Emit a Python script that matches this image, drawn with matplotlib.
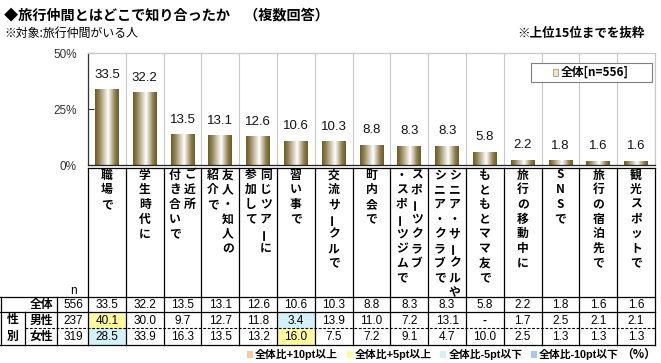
import matplotlib
matplotlib.use('Agg')
import matplotlib.pyplot as plt
import numpy as np
from matplotlib.colors import LinearSegmentedColormap
from matplotlib.patches import Rectangle

plt.rcParams['font.family'] = ['Noto Sans CJK JP', 'DejaVu Sans']

# ---------------- data ----------------
label_columns = [
    ['職場で'],
    ['学生時代に'],
    ['ご近所', '付き合いで'],
    ['友人・知人の', '紹介で'],
    ['同じツアーに', '参加して'],
    ['習い事で'],
    ['交流サークルで'],
    ['町内会で'],
    ['スポーツクラブ', '・スポーツジムで'],
    ['シニア・サークルや', 'シニア・クラブで'],
    ['もともとママ友で'],
    ['旅行の移動中に'],
    ['SNSで'],
    ['旅行の宿泊先で'],
    ['観光スポットで'],
]
total = [33.5, 32.2, 13.5, 13.1, 12.6, 10.6, 10.3, 8.8, 8.3, 8.3, 5.8, 2.2, 1.8, 1.6, 1.6]
male = [40.1, 30.0, 9.7, 12.7, 11.8, 3.4, 13.9, 11.0, 7.2, 13.1, None, 1.7, 2.5, 2.1, 2.1]
female = [28.5, 33.9, 16.3, 13.5, 13.2, 16.0, 7.5, 7.2, 9.1, 4.7, 10.0, 2.5, 1.3, 1.3, 1.3]
row_names = ['全体', '男性', '女性']
row_n = [556, 237, 319]
yticks = [0, 25, 50]
ytick_labels = ['0%', '25%', '50%']
legend_label = '全体[n=556]'
title = '◆旅行仲間とはどこで知り合ったか　（複数回答）'
subtitle = '※対象:旅行仲間がいる人'
note = '※上位15位までを抜粋'
key_labels = ['全体比+10pt以上', '全体比+5pt以上', '全体比-5pt以下', '全体比-10pt以下']
key_colors = ['#f8c9a6', '#fff9a0', '#d4f1f8', '#a6c8ea']
unit_label = '（%）'

W, H = 661, 363
NUM = 'Liberation Sans'

fig = plt.figure(figsize=(W / 100, H / 100), dpi=100)

# ---------------- bar chart ----------------
ax = fig.add_axes([88 / W, 1 - 165 / H, 567 / W, 112 / H])
x = np.arange(len(total))
bars = ax.bar(x, total, width=0.63, color='none', edgecolor='none', zorder=2)
cmap = LinearSegmentedColormap.from_list(
    'g', [(0, '#6a5b2b'), (0.15, '#8d7d4b'), (0.55, '#ffffff'),
          (0.85, '#8a7a47'), (1, '#6a5b2b')])
grad = np.linspace(0, 1, 256).reshape(1, -1)
for b in bars:
    ax.imshow(grad, extent=[b.get_x(), b.get_x() + b.get_width(), 0, b.get_height()],
              aspect='auto', cmap=cmap, zorder=2, interpolation='bilinear')
for b, v in zip(bars, total):
    ax.annotate(f'{v:.1f}', (b.get_x() + b.get_width() / 2, v), xytext=(0, 9),
                textcoords='offset pixels', ha='center', va='bottom',
                fontsize=9.5, family=NUM, color='#111111')
ax.set_xlim(-0.5, len(total) - 0.5)
ax.set_ylim(0, 50)
ax.set_yticks(yticks)
ax.set_yticklabels(ytick_labels, family=NUM, fontsize=8.5, color='#333333')
ax.set_xticks([])
ax.set_xticks(np.arange(-0.5, len(total), 1), minor=True)
ax.grid(axis='x', which='minor', color='#c8c8c8', lw=0.8)
ax.tick_params(axis='x', which='both', length=0)
ax.tick_params(axis='y', direction='in', length=4, pad=8, color='#333333')
ax.spines['top'].set_color('#c8c8c8')
ax.spines['right'].set_color('#c8c8c8')
ax.spines['left'].set_color('#333333')
ax.spines['bottom'].set_color('#222222')
for s in ax.spines.values():
    s.set_linewidth(0.9)
ax.set_axisbelow(True)

# ---------------- overlay (pixel coordinates) ----------------
ov = fig.add_axes([0, 0, 1, 1], zorder=3)
ov.set_xlim(0, W)
ov.set_ylim(H, 0)
ov.axis('off')
ov.patch.set_visible(False)


def px(c):
    return ax.transData.transform((c, 0))[0]


# titles
ov.text(4, 15, title, fontsize=10.2, fontweight='bold', va='center', ha='left')
ov.text(4, 33, subtitle, fontsize=8.6, va='center', ha='left')
ov.text(645, 33, note, fontsize=9, fontweight='bold', va='center', ha='right')

# legend box
ov.add_patch(Rectangle((531, 63), 121, 19, facecolor='white', edgecolor='#7f7f7f', lw=0.8))
ov.add_patch(Rectangle((553, 69), 5, 7, facecolor='#ece6cf', edgecolor='#a89a68', lw=0.6))
ov.text(561, 72.5, legend_label, fontsize=8.5, fontweight='bold', va='center', ha='left')

# category labels (vertical writing, columns read right-to-left)
y0, step = 175, 14.7
for i, cols in enumerate(label_columns):
    cx = px(i)
    n = len(cols)
    offsets = [0] if n == 1 else [7.5, -7.5]
    for col, off in zip(cols, offsets):
        for k, ch in enumerate(col):
            rot = 90 if ch == 'ー' else 0
            ov.text(cx + off, y0 + k * step, ch, fontsize=8.5, fontweight='bold',
                    ha='center', va='center', rotation=rot)

# table
row_top = [297, 312, 328]
row_bot = [312, 328, 345]
row_y = [(a + b) / 2 for a, b in zip(row_top, row_bot)]
rows = [total, male, female]


def cell_color(v, base):
    if v is None:
        return None
    d = round(v - base, 1)
    if d >= 10:
        return key_colors[0]
    if d >= 5:
        return key_colors[1]
    if d <= -10:
        return key_colors[3]
    if d <= -5:
        return key_colors[2]
    return None


for r, vals in enumerate(rows):
    for i, v in enumerate(vals):
        if r > 0:
            c = cell_color(v, total[i])
            if c:
                ov.add_patch(Rectangle((px(i - 0.5), row_top[r]), px(i + 0.5) - px(i - 0.5),
                                       row_bot[r] - row_top[r], facecolor=c, edgecolor='none', zorder=1))
        txt = '-' if v is None else f'{v:.1f}'
        ov.text(px(i), row_y[r] + 0.5, txt, fontsize=8.5, family=NUM, ha='center', va='center',
                fontweight='bold' if v is None else 'normal', zorder=3)
    ov.text(41, row_y[r], row_names[r], fontsize=8.5, fontweight='bold', ha='center', va='center')
    ov.text(73, row_y[r] + 0.5, str(row_n[r]), fontsize=8.5, family=NUM, ha='center', va='center')
ov.text(13, row_y[1], '性', fontsize=8.5, fontweight='bold', ha='center', va='center')
ov.text(13, row_y[2], '別', fontsize=8.5, fontweight='bold', ha='center', va='center')
ov.text(73, 291, 'n', fontsize=8.5, family=NUM, ha='center', va='center')

xr = px(len(total) - 0.5)
lk = dict(color='black', lw=0.9, zorder=2)
ov.plot([px(-0.5), xr], [168, 168], **lk)
ov.plot([0, xr], [297, 297], **lk)
ov.plot([0, xr], [312, 312], **lk)
ov.plot([25, xr], [328, 328], color='black', lw=0.8, ls=(0, (2.5, 1.5)), zorder=2)
ov.plot([0, xr], [345, 345], **lk)
ov.plot([0.5, 0.5], [297, 345], **lk)
ov.plot([25, 25], [312, 345], **lk)
ov.plot([57, 57], [297, 345], **lk)
for c in np.arange(-0.5, len(total), 1):
    ov.plot([px(c), px(c)], [168, 345], **lk)

# bottom key: measure texts, then spread the items between x=247 and the unit label
renderer = fig.canvas.get_renderer()
key_family = ['Liberation Sans', 'Noto Sans CJK JP']
unit_t = ov.text(656, 354, unit_label, fontsize=8.5, fontweight='bold', ha='right', va='center')
key_texts = [ov.text(0, 354, lab, fontsize=7.8, fontweight='bold', family=key_family,
                     ha='left', va='center') for lab in key_labels]
widths = [t.get_window_extent(renderer).width for t in key_texts]
unit_left = unit_t.get_window_extent(renderer).x0
sq, sgap = 6, 2
start, end = 247, unit_left - 2
gap = (end - start - sum(w + sq + sgap for w in widths)) / (len(widths) - 1)
cur = start
for t, w, col in zip(key_texts, widths, key_colors):
    ov.add_patch(Rectangle((cur, 350.5), sq, 7, facecolor=col, edgecolor='none'))
    t.set_x(cur + sq + sgap)
    cur += sq + sgap + w + gap

fig.savefig('out.png', dpi=100)
